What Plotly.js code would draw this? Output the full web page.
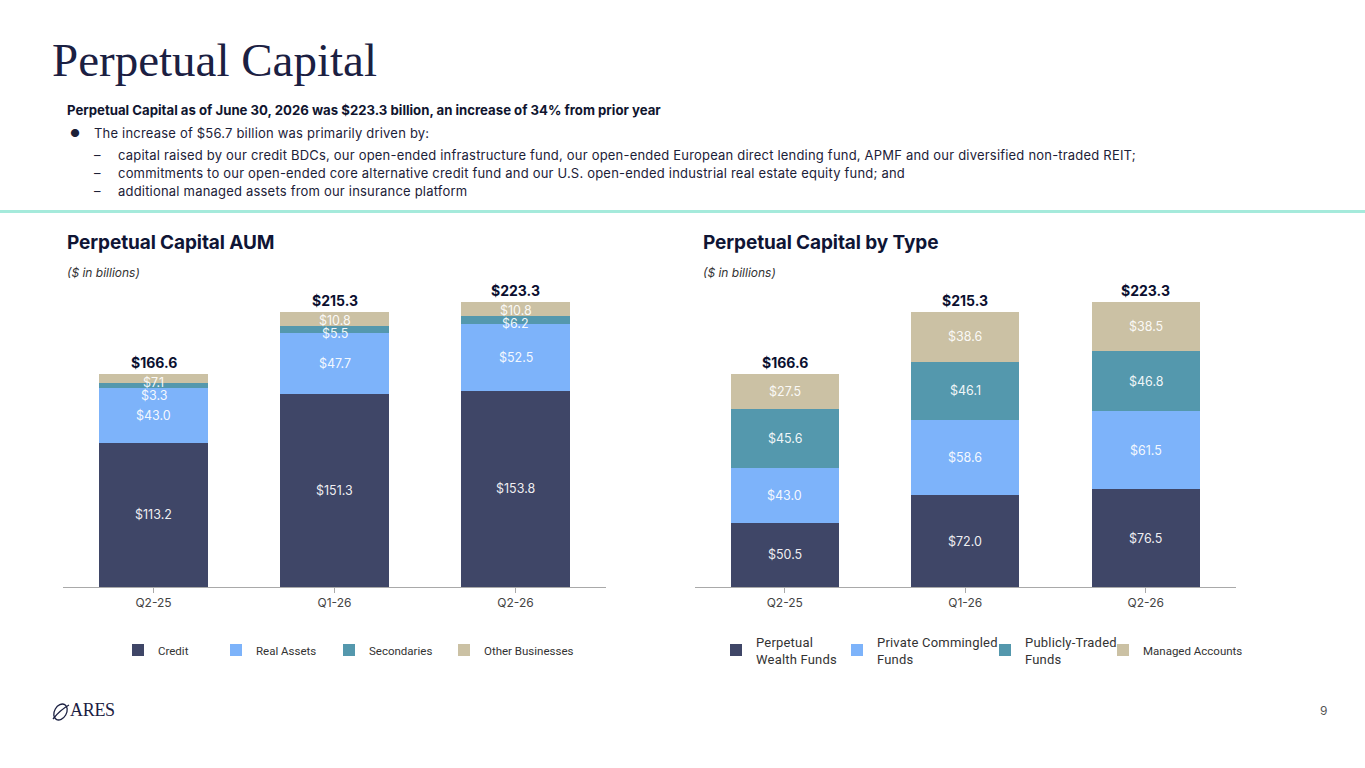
<!DOCTYPE html>
<html>
<head>
<meta charset="utf-8">
<script src="https://cdn.plot.ly/plotly-3.0.1.min.js"></script>
<style>
  html, body { margin: 0; padding: 0; background: #fff; }
  #page { position: relative; width: 1365px; height: 768px; overflow: hidden; color: #161b36; }
  #chart { position: absolute; left: 0; top: 0; width: 1365px; height: 768px; font-family: Roboto, sans-serif; }
  .txt { position: absolute; white-space: nowrap; font-family: Inter, "Open Sans", sans-serif; }
  .title { left: 52px; top: 37px; font-family: "Liberation Serif", serif; font-size: 47px; line-height: 1; color: #1b2042; }
  .lead { left: 67px; top: 102px; font-size: 13.2px; line-height: 16px; font-weight: 700; letter-spacing: 0; color: #10152f; }
  .line { font-size: 13px; line-height: 16px; letter-spacing: 0.2px; color: #1c2138; }
  .mark { font-size: 13px; line-height: 16px; color: #1c2138; }
  .rule { position: absolute; left: 0; top: 210px; width: 1365px; height: 3px; background: #A5EADB; }
  .head { font-size: 19px; line-height: 22px; font-weight: 700; letter-spacing: -0.1px; color: #0f1535; }
  .unit { font-size: 12px; line-height: 14px; font-style: italic; color: #333; }
  .pageno { left: 1320px; top: 703px; font-size: 12px; color: #555; }
  .logo { position: absolute; left: 51px; top: 700px; }
  .logo span { position: absolute; left: 19px; top: 0px; font-family: "Liberation Serif", serif; font-size: 18px; letter-spacing: -0.3px; color: #1b2042; }
</style>
</head>
<body>
<div id="page">
  <div id="chart"></div>

  <div class="txt title">Perpetual Capital</div>
  <div class="txt lead">Perpetual Capital as of June 30, 2026 was $223.3 billion, an increase of 34% from prior year</div>
  <div class="txt mark" style="left:70px;top:125px;font-size:11px;">&#9679;</div>
  <div class="txt line" style="left:94px;top:125px;">The increase of $56.7 billion was primarily driven by:</div>
  <div class="txt mark" style="left:94px;top:147px;">&ndash;</div>
  <div class="txt line" style="left:118px;top:147px;">capital raised by our credit BDCs, our open-ended infrastructure fund, our open-ended European direct lending fund, APMF and our diversified non-traded REIT;</div>
  <div class="txt mark" style="left:94px;top:165px;">&ndash;</div>
  <div class="txt line" style="left:118px;top:165px;">commitments to our open-ended core alternative credit fund and our U.S. open-ended industrial real estate equity fund; and</div>
  <div class="txt mark" style="left:94px;top:183px;">&ndash;</div>
  <div class="txt line" style="left:118px;top:183px;">additional managed assets from our insurance platform</div>
  <div class="rule"></div>

  <div class="txt head" style="left:67px;top:232px;">Perpetual Capital AUM</div>
  <div class="txt unit" style="left:67px;top:266px;">($ in billions)</div>
  <div class="txt head" style="left:703px;top:232px;">Perpetual Capital by Type</div>
  <div class="txt unit" style="left:703px;top:266px;">($ in billions)</div>

  <div class="logo">
    <svg width="20" height="22" viewBox="0 0 20 22" style="position:absolute;left:0;top:1px;">
      <ellipse cx="9.5" cy="11" rx="6" ry="8.5" transform="rotate(30 9.5 11)" fill="none" stroke="#1b2042" stroke-width="1.3"/>
      <path d="M2 18 Q9 9 18 4" stroke="#1b2042" stroke-width="1.3" fill="none"/>
    </svg>
    <span>ARES</span>
  </div>
  <div class="txt pageno">9</div>
</div>

<script>
  // Shared categories
  const quarters = ["Q2-25", "Q1-26", "Q2-26"];

  // Left chart: Perpetual Capital AUM ($bn)
  const aumNames = ["Credit", "Real Assets", "Secondaries", "Other Businesses"];
  const credit = [113.2, 151.3, 153.8];
  const realAssets = [43.0, 47.7, 52.5];
  const secondaries = [3.3, 5.5, 6.2];
  const otherBusinesses = [7.1, 10.8, 10.8];

  // Right chart: Perpetual Capital by Type ($bn)
  const typeNames = ["Perpetual<br>Wealth Funds", "Private Commingled<br>Funds", "Publicly-Traded<br>Funds", "Managed Accounts"];
  const perpetualWealth = [50.5, 72.0, 76.5];
  const privateCommingled = [43.0, 58.6, 61.5];
  const publiclyTraded = [45.6, 46.1, 46.8];
  const managedAccounts = [27.5, 38.6, 38.5];

  const COLOURS = ["#3F4667", "#7DB3FA", "#5498AD", "#CBC1A4"];
  const FONT = "Inter, 'Open Sans', sans-serif";
  const LEGEND_FONT = "Roboto";

  // Pixel geometry of the page
  const W = 1365, H = 768;
  const PLOT_BOTTOM = 587, PLOT_TOP = 270;
  const Y_MAX = 248.4;
  const pxPerUnit = (PLOT_BOTTOM - PLOT_TOP) / Y_MAX;
  const LEGEND_Y = 650;
  // centre of each legend swatch, px
  const aumSwatchX = [139, 237, 350, 465];
  const typeSwatchX = [737, 858, 1006, 1124];

  function makeTraces(names, series, axisSuffix, legendBase) {
    return series.map((vals, i) => ({
      type: "bar",
      x: quarters,
      y: vals,
      name: names[i],
      xaxis: "x" + axisSuffix,
      yaxis: "y" + axisSuffix,
      legend: "legend" + (legendBase + i === 1 ? "" : legendBase + i),
      showlegend: true,
      marker: { color: COLOURS[i], line: { width: 0 } },
      hoverinfo: "skip",
    }));
  }

  // Segment value labels; thin top segments push labels down so they stay on the bar.
  function segmentLabels(series, axisSuffix) {
    const minGap = 13 / pxPerUnit;
    const topPad = 8 / pxPerUnit;
    const out = [];
    quarters.forEach((q, j) => {
      let base = 0;
      const segs = series.map((vals) => {
        const v = vals[j];
        const s = { v, mid: base + v / 2 };
        base += v;
        return s;
      });
      let prev = base - topPad + minGap;
      for (let k = segs.length - 1; k >= 0; k--) {
        const y = Math.min(segs[k].mid, prev - minGap);
        prev = y;
        out.push({
          xref: "x" + axisSuffix, yref: "y" + axisSuffix,
          x: q, y, text: "$" + segs[k].v.toFixed(1),
          showarrow: false, yanchor: "middle",
          font: { family: FONT, size: 12.5, color: "rgba(255,255,255,0.93)" },
        });
      }
      out.push({
        xref: "x" + axisSuffix, yref: "y" + axisSuffix,
        x: q, y: base, text: "<b>$" + base.toFixed(1) + "</b>",
        showarrow: false, yanchor: "bottom", yshift: 1,
        font: { family: FONT, size: 14, color: "#0b1030" },
      });
    });
    return out;
  }

  const aumSeries = [credit, realAssets, secondaries, otherBusinesses];
  const typeSeries = [perpetualWealth, privateCommingled, publiclyTraded, managedAccounts];

  const traces = [
    ...makeTraces(aumNames, aumSeries, "", 1),
    ...makeTraces(typeNames, typeSeries, "2", 5),
  ];

  const yDomain = [1 - PLOT_BOTTOM / H, 1 - PLOT_TOP / H];
  function xAxis(left, right) {
    return {
      domain: [left / W, right / W],
      type: "category",
      range: [-0.5, 2.5],
      showline: true, linecolor: "#a9a9a9", linewidth: 1,
      ticks: "outside", ticklen: 5, tickcolor: "#a9a9a9",
      showgrid: false, zeroline: false, fixedrange: true,
      tickfont: { family: FONT, size: 12, color: "#444" },
    };
  }
  function yAxis() {
    return { domain: yDomain, range: [0, Y_MAX], visible: false, fixedrange: true };
  }
  // one legend per entry so each swatch sits where the slide puts it
  function legendAt(swatchX) {
    return {
      orientation: "h", x: (swatchX - 21) / W, xanchor: "left",
      y: 1 - LEGEND_Y / H, yanchor: "middle", valign: "middle",
      bgcolor: "rgba(0,0,0,0)", borderwidth: 0, visible: true,
      font: { family: LEGEND_FONT, size: 11.5, color: "#333" },
      itemclick: false, itemdoubleclick: false,
    };
  }

  const layout = {
    width: W, height: H,
    margin: { l: 0, r: 0, t: 0, b: 0 },
    paper_bgcolor: "rgba(0,0,0,0)", plot_bgcolor: "rgba(0,0,0,0)",
    barmode: "stack", bargap: 0.4,
    hovermode: false,
    showlegend: true,
    xaxis: Object.assign(xAxis(63, 606), { anchor: "y" }),
    yaxis: Object.assign(yAxis(), { anchor: "x" }),
    xaxis2: Object.assign(xAxis(694.5, 1236), { anchor: "y2" }),
    yaxis2: Object.assign(yAxis(), { anchor: "x2" }),
    annotations: [...segmentLabels(aumSeries, ""), ...segmentLabels(typeSeries, "2")],
    font: { family: LEGEND_FONT, size: 11.5, color: "#333" },
  };
  [...aumSwatchX, ...typeSwatchX].forEach((sx, i) => {
    layout["legend" + (i === 0 ? "" : i + 1)] = legendAt(sx);
  });

  Plotly.newPlot("chart", traces, layout, { displayModeBar: false, staticPlot: true });
</script>
</body>
</html>
